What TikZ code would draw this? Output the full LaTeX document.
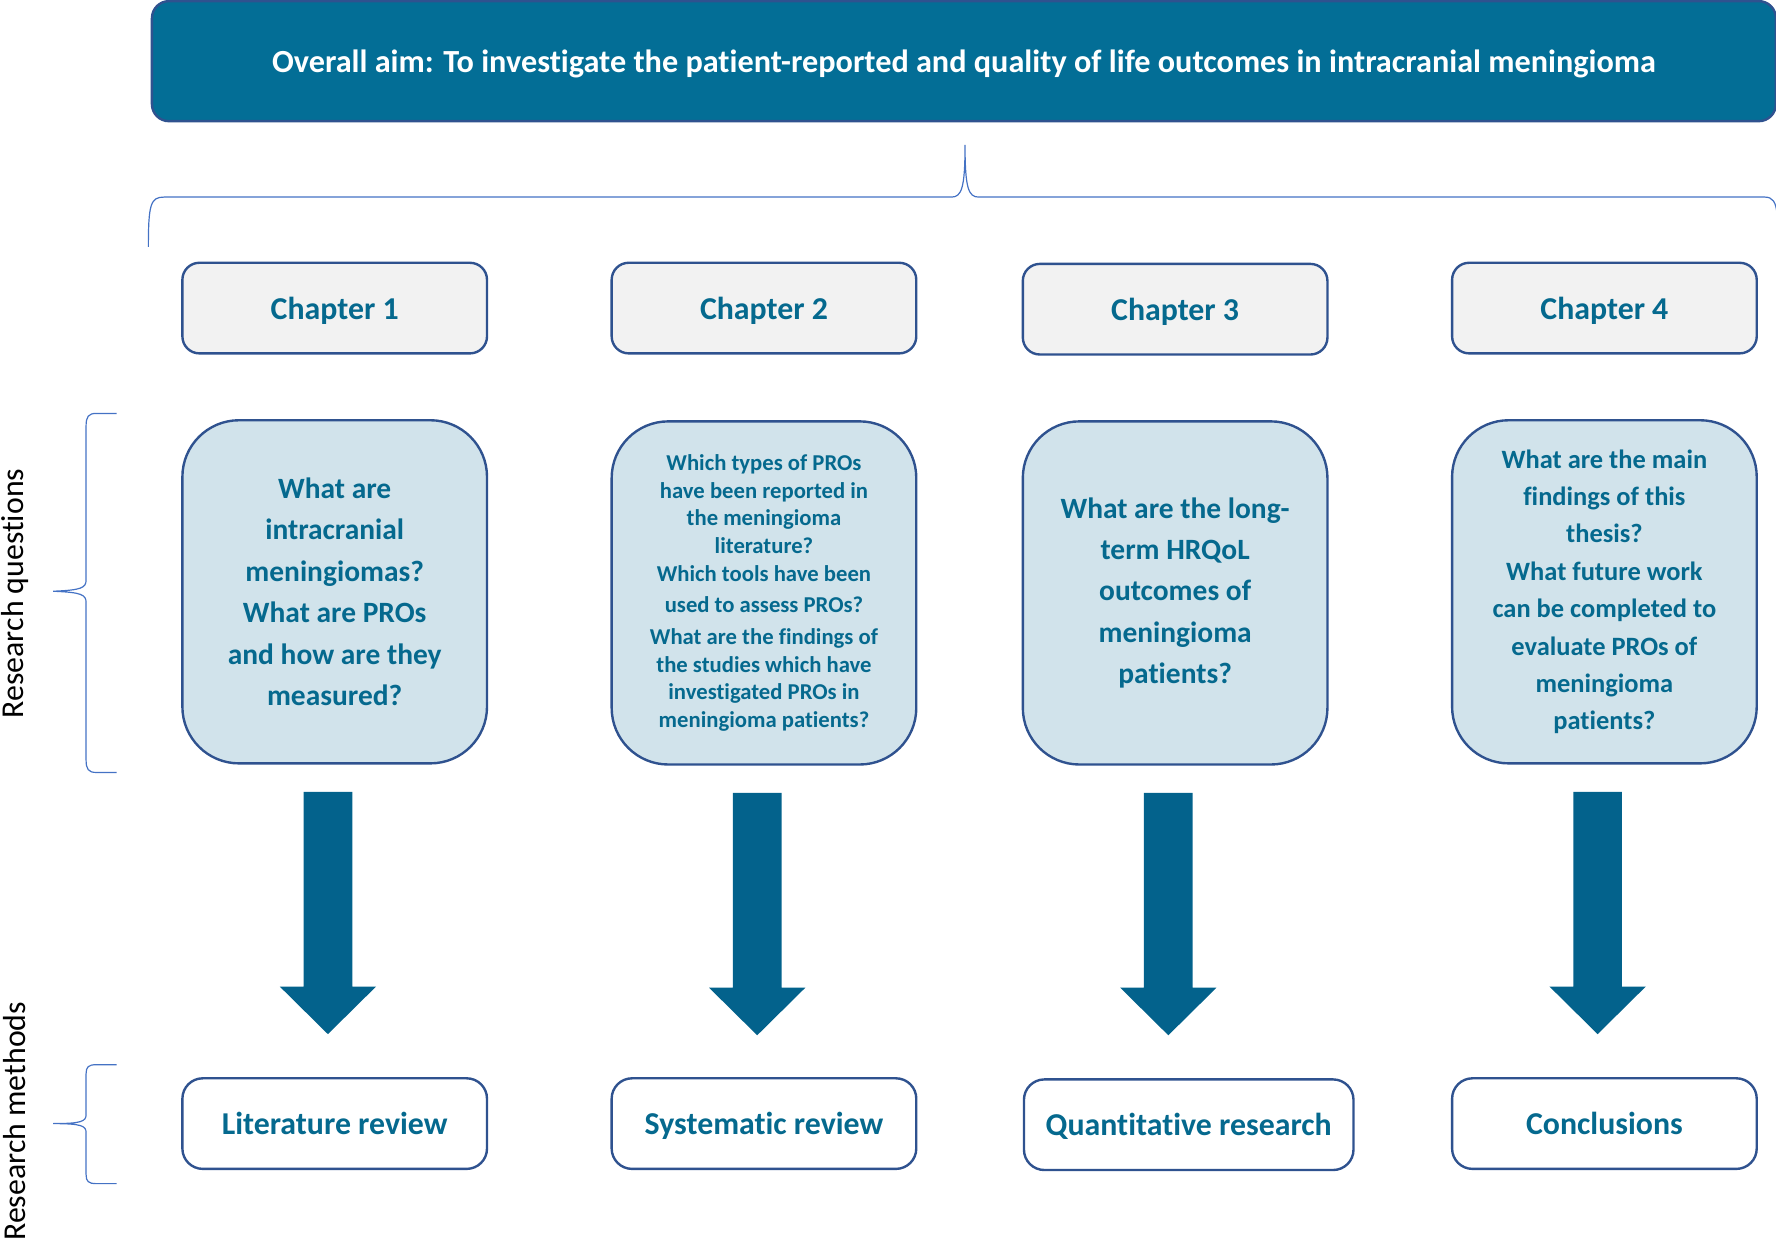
\documentclass[tikz,border=0pt]{standalone}
\usepackage{fontspec}
\setmainfont[Ligatures=NoCommon]{Carlito}
\usetikzlibrary{calc}
\definecolor{aimblue}{RGB}{3,110,150}
\definecolor{edgeblue}{RGB}{47,82,143}
\definecolor{txtblue}{RGB}{5,105,142}
\definecolor{qfill}{RGB}{209,227,235}
\definecolor{boxgrey}{RGB}{242,242,242}
\definecolor{arrowblue}{RGB}{3,98,140}
\definecolor{bracecol}{RGB}{68,114,196}
\begin{document}
\begin{tikzpicture}[x=0.02cm,y=-0.02cm,
  chapbox/.style={draw=edgeblue, line width=1.2pt, fill=boxgrey, rounded corners=0.3cm,
    minimum width=5.38cm, minimum height=1.6cm, text=txtblue, text depth=0pt,
    font=\fontsize{16}{19}\selectfont\bfseries, inner sep=0pt},
  qbox/.style={draw=edgeblue, line width=1.2pt, fill=qfill, rounded corners=1cm,
    minimum width=5.38cm, minimum height=6.06cm, text=txtblue, align=center, inner sep=0pt},
  mbox/.style={draw=edgeblue, line width=1.2pt, fill=white, rounded corners=0.36cm,
    minimum width=5.38cm, minimum height=1.6cm, text=txtblue, text depth=0pt,
    font=\fontsize{16}{19}\selectfont\bfseries, inner sep=0pt},
  brace/.style={draw=bracecol, line width=0.6pt},
  sidelabel/.style={rotate=90, font=\fontsize{16}{19}\selectfont, text=black},
]
\useasboundingbox (0,0) rectangle (1568,1097);

% overall aim banner
\node[draw=edgeblue, line width=1.2pt, fill=aimblue, rounded corners=0.3cm,
  minimum width=28.68cm, minimum height=2.12cm, text=white, text depth=0pt,
  font=\fontsize{16.2}{19}\selectfont\bfseries] (aim) at (851,54)
  {Overall aim: To investigate the patient-reported and quality of life outcomes in intracranial meningioma};

% brace spanning the chapters
\draw[brace] (131,218) .. controls (131,180) and (133,174) .. (145,174) -- (840,174)
  .. controls (849,174) and (852,166) .. (852,128)
  .. controls (852,166) and (855,174) .. (864,174) -- (1558,174)
  .. controls (1565,174) and (1568,178) .. (1569,190);

% chapter headers
\node[chapbox] (c1) at (295.5,272) {Chapter 1};
\node[chapbox] (c2) at (674.5,272) {Chapter 2};
\node[chapbox] (c3) at (1037.5,273) {Chapter 3};
\node[chapbox] (c4) at (1416.5,272) {Chapter 4};

% research questions
\node[qbox, font=\fontsize{14.8}{20.8}\selectfont\bfseries] (q1) at (295.5,522.5)
  {What are\\intracranial\\meningiomas?\\What are PROs\\and how are they\\measured?};
\node[qbox, font=\fontsize{11.4}{13.9}\selectfont\bfseries] (q2) at (674.5,523.5)
  {Which types of PROs\\have been reported in\\the meningioma\\literature?\\Which tools have been\\[2pt]used to assess PROs?\\[2pt]What are the findings of\\the studies which have\\investigated PROs in\\meningioma patients?};
\node[qbox, font=\fontsize{14.8}{20.8}\selectfont\bfseries] (q3) at (1037.5,523.5)
  {What are the long-\\term HRQoL\\outcomes of\\meningioma\\patients?};
\node[qbox, font=\fontsize{13.3}{18.8}\selectfont\bfseries] (q4) at (1416.5,522.5)
  {\rule{0pt}{6pt}What are the main\\findings of this\\thesis?\\What future work\\can be completed to\\evaluate PROs of\\meningioma\\patients?};

% research methods
\node[mbox] (m1) at (295.5,992) {Literature review};
\node[mbox] (m2) at (674.5,992) {Systematic review};
\node[mbox, minimum width=5.82cm] (m3) at (1049.5,993) {Quantitative research};
\node[mbox] (m4) at (1416.5,992) {Conclusions};

% block arrows from each question box down to its method
\foreach \i in {1,...,4}{
  \begin{scope}[shift={(q\i.south)}]
    \fill[arrowblue] (-27.5,24) -- (15.5,24) -- (15.5,196) -- (36.5,196)
      -- (-6,238) -- (-48.5,196) -- (-27.5,196) -- cycle;
  \end{scope}
}

% side braces and labels
\draw[brace] (103,365) -- (85,365) .. controls (78,365) and (76,368) .. (76,376) -- (76,512)
  .. controls (76,519) and (72,521) .. (47,522)
  .. controls (72,523) and (76,525) .. (76,532) -- (76,671)
  .. controls (76,679) and (78,682) .. (85,682) -- (103,682);
\draw[brace] (103,940) -- (85,940) .. controls (78,940) and (76,942) .. (76,948) -- (76,984)
  .. controls (76,990) and (72,992) .. (47,992)
  .. controls (72,992) and (76,994) .. (76,1000) -- (76,1037)
  .. controls (76,1043) and (78,1045) .. (85,1045) -- (103,1045);

\node[sidelabel] (rq) at (13,524) {Research questions};
\node[sidelabel] (rm) at (13,990) {Research methods};
\end{tikzpicture}
\end{document}
